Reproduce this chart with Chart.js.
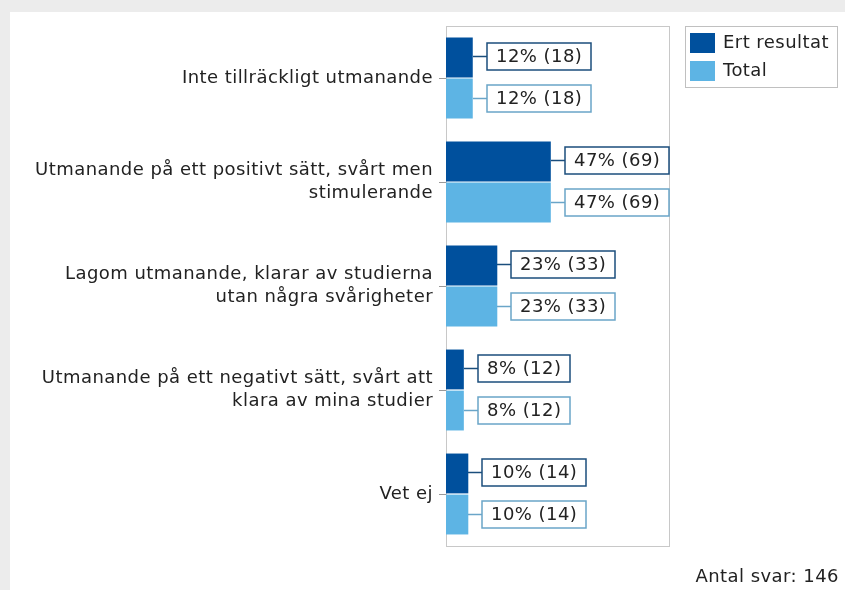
<!DOCTYPE html>
<html lang="sv">
<head>
    <meta charset="UTF-8">
    <title>Antal svar</title>
    <script src="https://cdn.jsdelivr.net/npm/chart.js"></script>
    <style>
        html, body { margin: 0; padding: 0; background: #ececec; }
        #wrap { position: absolute; left: 10px; top: 12px; width: 835px; height: 578px; background: #fff; }
    </style>
</head>
<body>
    <div id="wrap"><canvas id="chart" width="835" height="578"></canvas></div>

    <script>
        // Svarsalternativ
        const kategorier = [
            "Inte tillräckligt utmanande",
            ["Utmanande på ett positivt sätt, svårt men", "stimulerande"],
            ["Lagom utmanande, klarar av studierna", "utan några svårigheter"],
            ["Utmanande på ett negativt sätt, svårt att", "klara av mina studier"],
            "Vet ej"
        ];
        const ertProcent = [12, 47, 23, 8, 10];
        const ertAntal = [18, 69, 33, 12, 14];
        const totalProcent = [12, 47, 23, 8, 10];
        const totalAntal = [18, 69, 33, 12, 14];
        const antalSvar = 146;

        const FONT = '"DejaVu Sans", Verdana, sans-serif';
        const SPACING = '0.45px';

        // lite bredare teckenavstånd, som Verdana
        const spacing = {
            id: 'spacing',
            beforeDraw(chart) { chart.ctx.letterSpacing = SPACING; }
        };

        // ram runt diagramytan
        const ram = {
            id: 'ram',
            beforeDatasetsDraw(chart) {
                const { ctx, chartArea: a } = chart;
                ctx.save();
                ctx.strokeStyle = '#c8c8c8';
                ctx.lineWidth = 1;
                ctx.strokeRect(a.left + 0.5, a.top + 0.5, a.right - a.left, a.bottom - a.top);
                ctx.restore();
            }
        };

        // etiketter "12% (18)" i rutor
        const etiketter = {
            id: 'etiketter',
            afterDatasetsDraw(chart) {
                const ctx = chart.ctx;
                ctx.save();
                ctx.letterSpacing = SPACING;
                ctx.font = '18px ' + FONT;
                ctx.textBaseline = 'middle';
                chart.data.datasets.forEach((ds, i) => {
                    chart.getDatasetMeta(i).data.forEach((bar, j) => {
                        const txt = ds.data[j] + '% (' + ds.antal[j] + ')';
                        const x0 = Math.round(bar.x);
                        const y = Math.round(bar.y) - 0.5;
                        const w = Math.round(ctx.measureText(txt).width) + 18;
                        const bx = x0 + 14;
                        ctx.strokeStyle = ds.ramfarg;
                        ctx.lineWidth = 1.5;
                        ctx.beginPath();
                        ctx.moveTo(x0, y);
                        ctx.lineTo(bx, y);
                        ctx.stroke();
                        ctx.fillStyle = '#fff';
                        ctx.fillRect(bx, y - 13.5, w, 27);
                        ctx.strokeRect(bx, y - 13.5, w, 27);
                        ctx.fillStyle = '#222';
                        ctx.fillText(txt, bx + 9, y + 1);
                    });
                });
                ctx.restore();
            }
        };

        // legend och antal svar
        const legend = {
            id: 'egenLegend',
            afterDraw(chart) {
                const ctx = chart.ctx;
                ctx.save();
                ctx.letterSpacing = SPACING;
                ctx.strokeStyle = '#c0c0c0';
                ctx.lineWidth = 1;
                ctx.strokeRect(675.5, 14.5, 152, 61);
                ctx.font = '18px ' + FONT;
                ctx.textBaseline = 'middle';
                chart.data.datasets.forEach((ds, i) => {
                    const y = 21 + i * 28;
                    ctx.fillStyle = ds.backgroundColor;
                    ctx.fillRect(680, y, 25, 20);
                    ctx.fillStyle = '#222';
                    ctx.fillText(ds.label, 713, y + 10);
                });
                ctx.textAlign = 'right';
                ctx.fillText('Antal svar: ' + antalSvar, 829, 565);
                ctx.restore();
            }
        };

        new Chart(document.getElementById('chart'), {
            type: 'bar',
            data: {
                labels: kategorier,
                datasets: [{
                    label: 'Ert resultat',
                    data: ertProcent,
                    antal: ertAntal,
                    backgroundColor: '#00509d',
                    ramfarg: '#1b4e7c'
                }, {
                    label: 'Total',
                    data: totalProcent,
                    antal: totalAntal,
                    backgroundColor: '#5db4e4',
                    ramfarg: '#6aa5c8'
                }]
            },
            options: {
                indexAxis: 'y',
                responsive: false,
                animation: false,
                categoryPercentage: 0.79,
                barPercentage: 0.97,
                layout: { padding: { left: 0, top: 14, right: 176, bottom: 44 } },
                plugins: {
                    legend: { display: false },
                    tooltip: { enabled: false }
                },
                scales: {
                    x: { display: false, min: 0, max: 100 },
                    y: {
                        afterFit(scale) {
                            scale.width = 436;
                            scale.paddingTop = 0;
                            scale.paddingBottom = 0;
                        },
                        border: { display: false },
                        grid: {
                            offset: false,
                            drawOnChartArea: false,
                            tickLength: 7,
                            color: '#999'
                        },
                        ticks: {
                            padding: 6,
                            color: '#222',
                            font: { family: FONT, size: 18, lineHeight: 1.25 }
                        }
                    }
                }
            },
            plugins: [spacing, ram, etiketter, legend]
        });
    </script>
</body>
</html>
